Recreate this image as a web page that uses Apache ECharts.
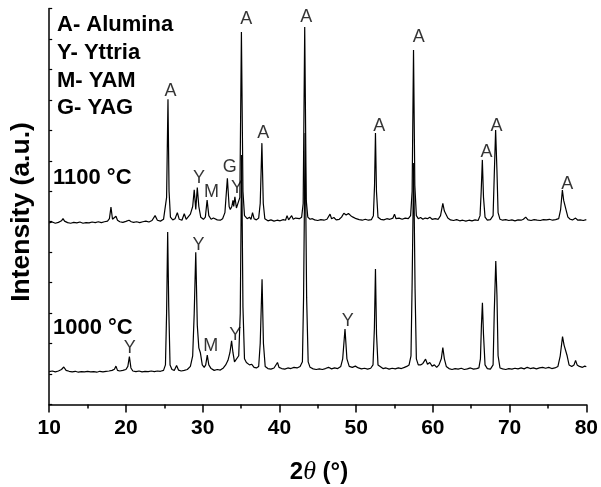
<!DOCTYPE html>
<html>
<head>
<meta charset="utf-8">
<script src="https://cdn.jsdelivr.net/npm/echarts@6/dist/echarts.min.js"></script>
<style>
  html, body { margin: 0; padding: 0; background: #fff; }
  #chart { width: 601px; height: 487px; }
</style>
</head>
<body>
<div id="chart"></div>
<script>
// 2theta ticks
var xTicks = [10, 20, 30, 40, 50, 60, 70, 80];

// XRD pattern, 1100 °C (offset upwards), [2theta, intensity a.u.]
var pattern1100 = [
  [10,5.96],[10.4,5.99],[10.8,5.95],[11.2,5.98],[11.6,6.03],[11.8,6.1],[12.0,6.02],[12.4,5.97],[12.8,5.95],[13.2,5.98],
  [13.6,5.96],[14.0,5.99],[14.4,5.95],[14.8,5.97],[15.2,5.96],[15.6,5.99],[16.0,5.97],[16.4,6.0],[16.8,5.97],[17.2,6.0],
  [17.6,6.02],[17.85,6.1],[18.05,6.48],[18.25,6.08],[18.5,6.05],[18.7,6.18],[18.9,6.05],[19.2,6.0],[19.6,5.98],[20.0,6.01],
  [20.4,6.05],[20.7,6.0],[21.0,5.98],[21.4,6.0],[21.8,5.97],[22.2,6.0],[22.6,6.02],[23.0,5.99],[23.4,6.04],[23.8,6.2],
  [24.1,6.05],[24.5,6.02],[24.9,6.08],[25.15,6.12],[25.3,6.8],[25.48,10.02],[25.62,7.0],[25.8,6.15],[26.1,6.06],[26.4,6.1],
  [26.7,6.3],[26.95,6.08],[27.3,6.05],[27.6,6.26],[27.85,6.08],[28.1,6.1],[28.4,6.25],[28.7,6.5],[28.9,7.05],[29.1,6.4],
  [29.3,7.12],[29.5,6.5],[29.75,6.15],[30.1,6.08],[30.35,6.15],[30.58,6.71],[30.8,6.2],[31.1,6.08],[31.4,6.12],[31.6,6.16],
  [31.9,6.06],[32.3,6.05],[32.6,6.1],[32.9,6.3],[33.22,7.43],[33.45,6.5],[33.6,6.4],[33.8,6.5],[33.95,6.7],[34.05,6.5],
  [34.2,6.82],[34.4,6.45],[34.6,6.5],[34.85,6.8],[35.05,12.23],[35.25,7.0],[35.45,6.2],[35.8,6.1],[36.1,6.15],[36.3,6.08],
  [36.5,6.3],[36.7,6.1],[37.0,6.06],[37.3,6.12],[37.5,6.6],[37.72,8.58],[37.9,6.6],[38.1,6.1],[38.5,6.03],[38.9,6.06],
  [39.3,6.02],[39.7,6.05],[40.1,6.03],[40.5,6.07],[40.8,6.05],[41.0,6.2],[41.2,6.06],[41.4,6.1],[41.6,6.2],[41.8,6.08],
  [42.1,6.12],[42.3,6.16],[42.6,6.1],[42.9,6.15],[43.1,6.6],[43.3,12.39],[43.5,6.7],[43.7,6.15],[44.0,6.08],[44.3,6.1],
  [44.6,6.06],[45.0,6.04],[45.4,6.07],[45.8,6.05],[46.2,6.08],[46.6,6.25],[46.8,6.1],[47.1,6.14],[47.4,6.06],[47.8,6.08],
  [48.1,6.15],[48.4,6.28],[48.7,6.22],[49.0,6.27],[49.3,6.2],[49.6,6.15],[50.0,6.1],[50.4,6.07],[50.8,6.05],[51.2,6.08],
  [51.6,6.05],[52.0,6.07],[52.25,6.2],[52.4,7.2],[52.52,8.91],[52.65,7.0],[52.85,6.15],[53.2,6.08],[53.6,6.06],[54.0,6.1],
  [54.4,6.08],[54.8,6.12],[55.0,6.25],[55.2,6.1],[55.6,6.12],[56.0,6.08],[56.4,6.12],[56.8,6.1],[57.1,6.2],[57.3,7.0],
  [57.48,11.64],[57.65,7.2],[57.85,6.2],[58.1,6.1],[58.4,6.14],[58.7,6.08],[59.0,6.12],[59.3,6.1],[59.6,6.15],[59.9,6.08],
  [60.3,6.1],[60.7,6.08],[61.0,6.2],[61.3,6.6],[61.5,6.35],[61.7,6.38],[61.95,6.12],[62.3,6.06],[62.7,6.04],[63.1,6.07],
  [63.5,6.03],[63.9,6.05],[64.3,6.02],[64.7,6.05],[65.1,6.03],[65.5,6.06],[65.9,6.04],[66.15,6.2],[66.3,7.0],[66.45,8.03],
  [66.6,6.8],[66.8,6.15],[67.1,6.05],[67.5,6.07],[67.85,6.2],[68.0,7.5],[68.18,9.01],[68.35,7.7],[68.5,6.3],[68.75,6.08],
  [69.1,6.05],[69.5,6.07],[69.9,6.04],[70.3,6.06],[70.7,6.03],[71.1,6.06],[71.5,6.05],[71.8,6.08],[72.1,6.15],[72.4,6.06],
  [72.8,6.04],[73.2,6.07],[73.6,6.05],[74.0,6.04],[74.4,6.07],[74.8,6.06],[75.2,6.08],[75.6,6.05],[76.0,6.07],[76.4,6.1],
  [76.65,6.4],[76.88,7.04],[77.05,6.7],[77.15,6.75],[77.35,6.4],[77.6,6.15],[77.9,6.08],[78.2,6.06],[78.6,6.12],[78.9,6.05],
  [79.2,6.06],[79.6,6.04],[80.0,6.07]
];

// XRD pattern, 1000 °C
var pattern1000 = [
  [10,1.08],[10.4,1.1],[10.8,1.07],[11.2,1.1],[11.6,1.15],[11.9,1.23],[12.2,1.12],[12.6,1.09],[13.0,1.07],[13.4,1.09],
  [13.8,1.06],[14.2,1.08],[14.6,1.07],[15.0,1.09],[15.4,1.07],[15.8,1.08],[16.2,1.06],[16.6,1.09],[17.0,1.07],[17.4,1.09],
  [17.8,1.1],[18.2,1.12],[18.5,1.16],[18.7,1.26],[18.9,1.12],[19.2,1.1],[19.6,1.12],[20.0,1.15],[20.25,1.25],[20.45,1.57],
  [20.65,1.2],[20.9,1.1],[21.3,1.08],[21.7,1.1],[22.1,1.07],[22.5,1.09],[22.9,1.08],[23.3,1.1],[23.7,1.08],[24.1,1.1],
  [24.5,1.09],[24.9,1.12],[25.15,1.3],[25.3,3.0],[25.44,5.66],[25.58,3.2],[25.75,1.3],[26.0,1.15],[26.3,1.12],[26.6,1.28],
  [26.85,1.13],[27.2,1.1],[27.6,1.12],[28.0,1.15],[28.4,1.25],[28.7,1.6],[28.9,3.0],[29.1,5.0],[29.3,2.6],[29.5,1.86],
  [29.7,1.7],[29.95,1.3],[30.2,1.22],[30.4,1.3],[30.6,1.62],[30.8,1.3],[31.1,1.18],[31.5,1.12],[31.9,1.15],[32.3,1.13],
  [32.7,1.2],[33.0,1.3],[33.3,1.45],[33.55,1.7],[33.77,2.09],[33.95,1.7],[34.15,1.4],[34.4,1.45],[34.7,1.6],[34.9,3.0],
  [35.08,8.19],[35.25,3.2],[35.45,1.5],[35.7,1.38],[35.9,1.42],[36.1,1.3],[36.4,1.32],[36.7,1.22],[37.0,1.2],[37.3,1.25],
  [37.5,2.0],[37.74,4.11],[37.92,2.0],[38.15,1.25],[38.5,1.18],[38.9,1.16],[39.3,1.2],[39.55,1.25],[39.75,1.38],[39.95,1.22],
  [40.3,1.18],[40.7,1.16],[41.1,1.2],[41.5,1.18],[41.9,1.22],[42.3,1.2],[42.7,1.25],[43.0,1.4],[43.15,3.5],[43.35,8.91],
  [43.55,3.5],[43.75,1.4],[44.0,1.22],[44.4,1.17],[44.8,1.15],[45.2,1.17],[45.6,1.15],[46.0,1.18],[46.4,1.22],[46.8,1.17],
  [47.2,1.2],[47.6,1.18],[48.0,1.25],[48.25,1.5],[48.55,2.48],[48.8,1.5],[49.1,1.25],[49.5,1.22],[49.9,1.26],[50.3,1.2],
  [50.7,1.17],[51.1,1.19],[51.5,1.16],[51.9,1.19],[52.2,1.3],[52.38,2.5],[52.52,4.45],[52.66,2.3],[52.85,1.3],[53.1,1.25],
  [53.5,1.18],[53.9,1.2],[54.3,1.16],[54.7,1.19],[55.1,1.17],[55.5,1.2],[55.9,1.18],[56.3,1.22],[56.6,1.25],[56.9,1.3],
  [57.15,1.6],[57.3,4.0],[57.5,7.93],[57.68,3.8],[57.85,1.5],[58.1,1.3],[58.4,1.3],[58.7,1.35],[59.05,1.49],[59.3,1.32],
  [59.6,1.38],[59.9,1.26],[60.2,1.3],[60.5,1.22],[60.8,1.3],[61.1,1.5],[61.3,1.87],[61.5,1.5],[61.75,1.25],[62.1,1.18],
  [62.5,1.15],[62.9,1.18],[63.3,1.16],[63.7,1.19],[64.1,1.15],[64.5,1.17],[64.9,1.2],[65.3,1.16],[65.7,1.18],[66.0,1.2],
  [66.2,1.5],[66.33,2.6],[66.46,3.34],[66.6,2.3],[66.8,1.3],[67.1,1.18],[67.5,1.16],[67.85,1.3],[68.0,3.0],[68.2,4.71],
  [68.35,3.6],[68.5,1.6],[68.75,1.2],[69.1,1.17],[69.5,1.15],[69.9,1.18],[70.3,1.16],[70.7,1.19],[71.1,1.17],[71.5,1.2],
  [71.9,1.17],[72.3,1.22],[72.7,1.18],[73.1,1.2],[73.5,1.17],[73.9,1.2],[74.3,1.22],[74.7,1.19],[75.1,1.22],[75.5,1.18],
  [75.9,1.2],[76.3,1.25],[76.6,1.6],[76.9,2.23],[77.1,1.95],[77.3,2.0],[77.5,1.6],[77.75,1.3],[78.1,1.25],[78.4,1.3],
  [78.6,1.45],[78.8,1.3],[79.1,1.25],[79.5,1.22],[79.8,1.26],[80,1.24]
];

// phase labels over the peaks: [2theta, height, phase]
var peakLabels1100 = [
  [25.81,10.29,'A'],[29.53,7.44,'Y'],[31.14,6.98,'M'],[33.52,7.81,'G'],[34.47,7.11,'Y'],
  [35.69,12.66,'A'],[37.9,8.91,'A'],[43.5,12.71,'A'],[53.03,9.14,'A'],[58.15,12.06,'A'],
  [66.99,8.3,'A'],[68.29,9.14,'A'],[77.53,7.24,'A']
];
var peakLabels1000 = [
  [20.51,1.85,'Y'],[29.46,5.24,'Y'],[31.05,1.93,'M'],[34.26,2.28,'Y'],[48.91,2.74,'Y']
];

var phaseKey = ['A- Alumina', 'Y- Yttria', 'M- YAM', 'G- YAG'];
var tempNames = ['1100 °C', '1000 °C'];

var FONT = '"Liberation Sans", Arial, sans-serif';

var myChart = echarts.init(document.getElementById('chart'));

var keyText = [];
for (var i = 0; i < phaseKey.length; i++) {
    keyText.push({
        type: 'text',
        x: 57,
        y: 25 + i * 27.8,
        style: {
            text: phaseKey[i],
            font: 'bold 22px ' + FONT,
            fill: '#000',
            verticalAlign: 'middle'
        }
    });
}

var option = {
    animation: false,
    backgroundColor: '#fff',
    grid: {
        left: 49.2,
        right: 13.7,
        top: 8.5,
        bottom: 82.5
    },
    xAxis: {
        type: 'value',
        min: 10,
        max: 80,
        interval: 10,
        axisLine: { lineStyle: { color: '#000', width: 1.5 } },
        axisTick: { length: 8, lineStyle: { color: '#000', width: 1.5 } },
        minorTick: { show: true, splitNumber: 2, length: 4, lineStyle: { color: '#000', width: 1.5 } },
        splitLine: { show: false },
        axisLabel: {
            margin: 13,
            color: '#000',
            fontFamily: FONT,
            fontWeight: 'bold',
            fontSize: 21,
            customValues: xTicks
        }
    },
    yAxis: {
        type: 'value',
        min: 0,
        max: 13,
        interval: 1,
        axisLine: { show: true, lineStyle: { color: '#000', width: 1.5 } },
        axisTick: { show: true, inside: true, length: 3, lineStyle: { color: '#000', width: 1.2 } },
        axisLabel: { show: false },
        splitLine: { show: false }
    },
    graphic: keyText.concat([
        {
            type: 'text',
            x: 53,
            y: 178,
            style: { text: tempNames[0], font: 'bold 22px ' + FONT, fill: '#000', verticalAlign: 'middle' }
        },
        {
            type: 'text',
            x: 53,
            y: 328,
            style: { text: tempNames[1], font: 'bold 22px ' + FONT, fill: '#000', verticalAlign: 'middle' }
        },
        {
            type: 'text',
            x: 22,
            y: 212,
            rotation: Math.PI / 2,
            style: {
                text: 'Intensity (a.u.)',
                font: 'bold 26.5px ' + FONT,
                fill: '#000',
                align: 'center',
                verticalAlign: 'middle'
            }
        },
        {
            type: 'text',
            x: 319,
            y: 472,
            style: {
                text: '{a|2}{b|θ}{a| (°)}',
                align: 'center',
                verticalAlign: 'middle',
                rich: {
                    a: { font: 'bold 24px ' + FONT, fill: '#000' },
                    b: { font: 'italic 26px "Liberation Serif", serif', fill: '#000' }
                }
            }
        }
    ]),
    series: [
        {
            name: tempNames[0],
            type: 'line',
            data: pattern1100,
            symbol: 'none',
            lineStyle: { color: '#000', width: 1.2 },
            z: 3
        },
        {
            name: tempNames[1],
            type: 'line',
            data: pattern1000,
            symbol: 'none',
            lineStyle: { color: '#000', width: 1.2 },
            z: 3
        },
        {
            type: 'scatter',
            data: peakLabels1100.concat(peakLabels1000),
            symbolSize: 1,
            itemStyle: { color: 'rgba(0,0,0,0)' },
            label: {
                show: true,
                position: 'inside',
                formatter: function (p) { return p.data[2]; },
                color: '#000',
                fontFamily: FONT,
                fontSize: 18
            },
            z: 4
        }
    ]
};
myChart.setOption(option);
</script>
</body>
</html>
